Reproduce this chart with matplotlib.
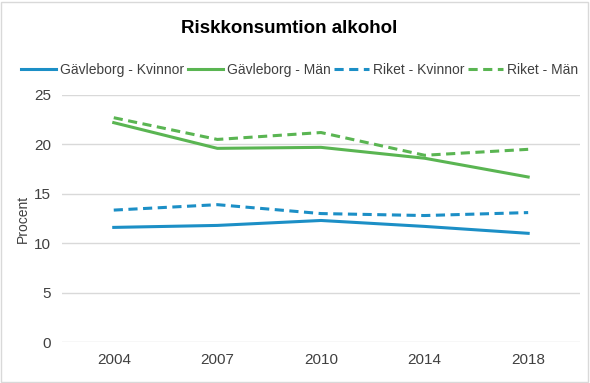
import matplotlib.pyplot as plt
from matplotlib.patches import Rectangle

plt.rcParams['font.family'] = ['Liberation Sans', 'DejaVu Sans']

years = ['2004', '2007', '2010', '2014', '2018']
gavle_kvinnor = [11.6, 11.8, 12.3, 11.7, 11.0]
gavle_man = [22.2, 19.6, 19.7, 18.6, 16.7]
riket_kvinnor = [13.35, 13.9, 13.0, 12.8, 13.1]
riket_man = [22.7, 20.5, 21.2, 18.9, 19.5]

blue = '#1C8FC6'
green = '#5AB552'

fig = plt.figure(figsize=(5.9, 3.83), dpi=100)
ax = fig.add_axes([0.105, 0.107, 0.878, 0.645])

x = range(len(years))
ax.plot(x, gavle_kvinnor, color=blue, lw=2.2, label='Gävleborg - Kvinnor')
ax.plot(x, gavle_man, color=green, lw=2.2, label='Gävleborg - Män')
ax.plot(x, riket_kvinnor, color=blue, lw=2.2, ls=(0, (3, 1.8)), label='Riket - Kvinnor')
ax.plot(x, riket_man, color=green, lw=2.2, ls=(0, (3, 1.8)), label='Riket - Män')

ax.set_xlim(-0.5, 4.5)
ax.set_ylim(0, 25)
ax.set_yticks([0, 5, 10, 15, 20, 25])
ax.set_xticks(list(x))
ax.set_xticklabels(years)
ax.grid(axis='y', color='#D9D9D9', lw=1)
ax.set_axisbelow(True)
for s in ax.spines.values():
    s.set_visible(False)
ax.tick_params(length=0, labelsize=11, colors='#404040', pad=8)
ax.set_ylabel('Procent', fontsize=10, color='#404040', labelpad=3)

fig.text(0.49, 0.926, 'Riskkonsumtion alkohol', ha='center', va='center',
         fontsize=13.5, fontweight='bold', color='black')
fig.legend(loc='center', bbox_to_anchor=(0.508, 0.817), ncol=4, frameon=False,
           fontsize=10, handlelength=2.5, handletextpad=0.3, columnspacing=0.25,
           labelcolor='#404040')

fig.patches.append(Rectangle((0.002, 0.003), 0.995, 0.993, transform=fig.transFigure,
                             fill=False, edgecolor='#D9D9D9', lw=1))

fig.savefig('out.png', dpi=100)
